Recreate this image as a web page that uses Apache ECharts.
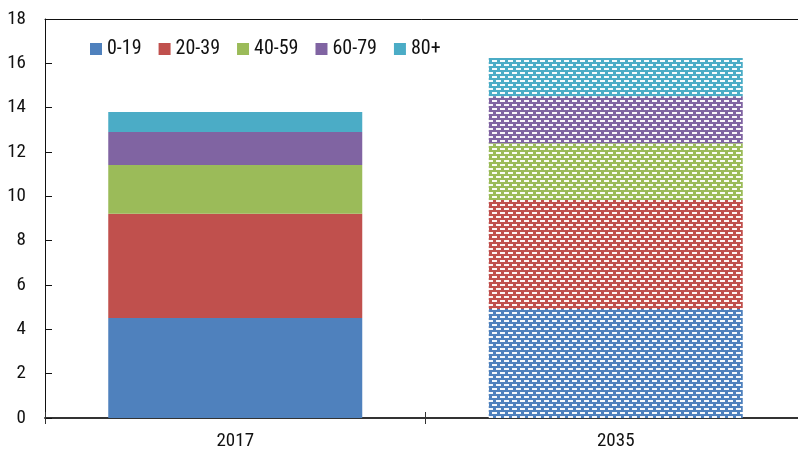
<!DOCTYPE html>
<html>
<head>
<meta charset="utf-8">
<script src="https://cdn.jsdelivr.net/npm/echarts@6/dist/echarts.min.js"></script>
<style>
  html, body { margin: 0; padding: 0; background: #fff; }
  #chart { width: 798px; height: 454px; }
</style>
</head>
<body>
<div id="chart"></div>
<script>
// 数据
var years = ['2017', '2035'];
var ageGroups = ['0-19', '20-39', '40-59', '60-79', '80+'];
var group0_19 = [4.51, 4.92];
var group20_39 = [4.70, 4.91];
var group40_59 = [2.20, 2.57];
var group60_79 = [1.49, 2.12];
var group80plus = [0.90, 1.72];
var yTicks = [0, 18, 2]; // min, max, interval

var colors = ['#4F81BD', '#C0504D', '#9BBB59', '#8064A2', '#4BACC6'];
var font = '"Roboto Condensed", "DejaVu Sans Condensed", sans-serif';

// 2035 用的虚线底纹
function makePattern(color) {
  var c = document.createElement('canvas');
  c.width = 8;
  c.height = 8;
  var ctx = c.getContext('2d');
  ctx.fillStyle = color;
  ctx.fillRect(0, 0, 8, 8);
  ctx.fillStyle = 'rgba(255,255,255,0.95)';
  ctx.fillRect(0, 0, 5, 2);
  ctx.fillRect(4, 4, 4, 2);
  ctx.fillRect(0, 4, 1, 2);
  return { image: c, repeat: 'repeat' };
}

var values = [group0_19, group20_39, group40_59, group60_79, group80plus];

var series = ageGroups.map(function (name, i) {
  return {
    name: name,
    type: 'bar',
    stack: 'total',
    barWidth: 254,
    itemStyle: { color: colors[i] },
    data: values[i].map(function (v, j) {
      if (j === 1) {
        return { value: v, itemStyle: { color: makePattern(colors[i]) } };
      }
      return v;
    })
  };
});

var chart = echarts.init(document.getElementById('chart'));
chart.setOption({
  animation: false,
  textStyle: { fontFamily: font },
  grid: { left: 45, width: 761, top: 19, bottom: 36, outerBoundsMode: 'none' },
  legend: {
    left: 85,
    top: 34,
    itemWidth: 12,
    itemHeight: 12,
    itemGap: 17,
    icon: 'rect',
    textStyle: { fontSize: 20, color: '#111', fontFamily: font },
    data: ageGroups
  },
  xAxis: [
    {
      type: 'category',
      data: years,
      position: 'bottom',
      axisLine: { lineStyle: { color: '#333', width: 2 } },
      axisTick: { show: true, length: 6, lineStyle: { color: '#333' } },
      axisLabel: { fontSize: 19, color: '#111', margin: 14, fontFamily: font }
    },
    {
      // 向内的刻度
      type: 'category',
      data: years,
      position: 'bottom',
      axisLine: { show: false },
      axisTick: { show: true, inside: true, length: 6, lineStyle: { color: '#333' } },
      axisLabel: { show: false }
    },
    {
      // 顶部边框
      type: 'category',
      data: years,
      position: 'top',
      axisLine: { show: true, lineStyle: { color: '#111', width: 1 } },
      axisTick: { show: false },
      axisLabel: { show: false }
    }
  ],
  yAxis: {
    type: 'value',
    min: yTicks[0],
    max: yTicks[1],
    interval: yTicks[2],
    axisLine: { show: true, lineStyle: { color: '#111', width: 1 } },
    axisTick: { show: true, inside: true, length: 7, lineStyle: { color: '#111' } },
    splitLine: { show: false },
    axisLabel: { fontSize: 19, color: '#111', margin: 19, fontFamily: font }
  },
  series: series
});
</script>
</body>
</html>
